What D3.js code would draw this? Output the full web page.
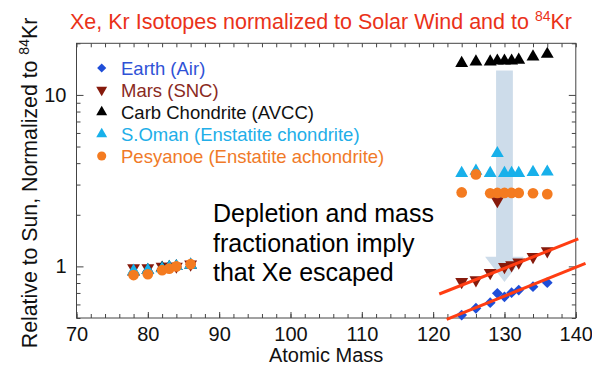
<!DOCTYPE html>
<html>
<head>
<meta charset="utf-8">
<script src="https://cdn.jsdelivr.net/npm/d3@7"></script>
<style>
  body { margin: 0; background: #fff; }
  svg { display: block; }
  text { font-family: "Liberation Sans", Arial, Helvetica, sans-serif; }
</style>
</head>
<body>
<svg id="chart" width="592" height="369"></svg>
<script>
// Isotope masses
const krMass = [78, 80, 82, 83, 84, 86];
const xeMass = [124, 126, 128, 129, 130, 131, 132, 134, 136];

// Abundances relative to solar wind, normalized to 84Kr
const earthKr = [0.91, 0.93, 0.97, 0.98, 1.0, 1.03];
const earthXe = [0.52, 0.57, 0.614, 0.697, 0.665, 0.702, 0.728, 0.761, 0.804];
const marsKr = [0.98, 0.98, 1.0, 1.0, 1.0, 1.03];
const marsXe = [0.814, 0.833, 0.918, 2.41, 0.995, 1.018, 1.056, 1.138, 1.23];
const avccKr = [0.93, 0.95, 0.98, 0.99, 1.0, 1.02];
const avccXe = [15.3, 15.6, 15.6, 15.8, 15.8, 15.8, 16.0, 16.7, 17.3];
const omanKr = [0.94, 0.95, 0.97, 0.99, 1.0, 1.02];
const omanXe = [3.49, 3.6, 3.49, 4.56, 3.49, 3.49, 3.49, 3.54, 3.56];
const pesyKr = [0.89, 0.9, 0.95, 0.97, 1.0, 1.03];
const pesyXe = [2.70, 3.44, 2.67, 2.68, 2.68, 2.68, 2.68, 2.67, 2.64];

const seriesNames = ["Earth (Air)", "Mars (SNC)", "Carb Chondrite (AVCC)",
  "S.Oman (Enstatite chondrite)", "Pesyanoe (Enstatite achondrite)"];

// Mass-fractionation trend lines: [mass, value] end points
const marsTrend = [[120.86, 0.690], [140.35, 1.445]];
const earthTrend = [[121.9, 0.491], [141.36, 1.042]];

// Depletion arrow at mass 130: top, head base and tip values
const arrowMass = 130;
const arrowValues = [13.9, 1.14, 0.81];

const xTicks = d3.range(70, 141, 10);
const xMinor = d3.range(70, 141, 2);
const yTicks = [1, 10];
const yMinor = [0.5, 0.6, 0.7, 0.8, 0.9, 2, 3, 4, 5, 6, 7, 8, 9, 20];

const title = "Xe, Kr Isotopes normalized to Solar Wind and to ";
const yLabel = "Relative to Sun, Normalized to ";
const xLabel = "Atomic Mass";
const annotation = ["Depletion and mass", "fractionation imply", "that Xe escaped"];

const svg = d3.select("#chart");
const pLeft = 76.5, pRight = 575.8, pTop = 43.3, pBottom = 318;

const x = d3.scaleLinear().domain([70, 140]).range([pLeft, pRight]);
const y = d3.scaleLog().domain([0.5, 20]).range([pBottom, pTop]);

const series = [
  { name: seriesNames[0], color: "#1f4ed8", text: "#2f52d6", kr: earthKr, xe: earthXe, sym: d3.symbolSquare, rot: 45, size: 58 },
  { name: seriesNames[1], color: "#861a0c", text: "#8a2a1e", kr: marsKr, xe: marsXe, sym: d3.symbolTriangle, rot: 180, size: 72 },
  { name: seriesNames[2], color: "#000000", text: "#111111", kr: avccKr, xe: avccXe, sym: d3.symbolTriangle, rot: 0, size: 72 },
  { name: seriesNames[3], color: "#18b0ea", text: "#22aee8", kr: omanKr, xe: omanXe, sym: d3.symbolTriangle, rot: 0, size: 72 },
  { name: seriesNames[4], color: "#f47b20", text: "#f07a28", kr: pesyKr, xe: pesyXe, sym: d3.symbolCircle, rot: 0, size: 90 }
];

// Title with superscript
const t = svg.append("text").attr("x", 321).attr("y", 29).attr("text-anchor", "middle")
  .attr("fill", "#ea3219").style("font-size", "21.5px");
t.append("tspan").text(title);
t.append("tspan").text("84").attr("dy", -8).style("font-size", "14px");
t.append("tspan").text("Kr").attr("dy", 8);

// Arrow
const ax = x(arrowMass);
const [aTop, aBase, aTip] = arrowValues.map(v => y(v));
svg.append("path")
  .attr("d", `M${ax - 8.4},${aTop} L${ax + 8.4},${aTop} L${ax + 8.4},${aBase} L${ax + 19.4},${aBase} L${ax},${aTip} L${ax - 19.4},${aBase} L${ax - 8.4},${aBase} Z`)
  .attr("fill", "#cddcea");

// Axes
function styleAxis(g) {
  g.select(".domain").remove();
  g.selectAll("line").attr("stroke", "#444");
  g.selectAll("text").attr("fill", "#111").style("font-size", "20px");
}
svg.append("g").attr("transform", `translate(0,${pBottom})`)
  .call(d3.axisBottom(x).tickValues(xMinor).tickSize(-4).tickFormat(""))
  .call(styleAxis);
svg.append("g").attr("transform", `translate(0,${pBottom})`)
  .call(d3.axisBottom(x).tickValues(xTicks).tickSize(-6).tickPadding(9).tickFormat(d3.format("d")))
  .call(styleAxis);
svg.append("g").attr("transform", `translate(0,${pTop})`)
  .call(d3.axisTop(x).tickValues(xMinor).tickSize(-4).tickFormat(""))
  .call(styleAxis);
svg.append("g").attr("transform", `translate(${pLeft},0)`)
  .call(d3.axisLeft(y).tickValues(yMinor).tickSize(-4).tickFormat(""))
  .call(styleAxis);
svg.append("g").attr("transform", `translate(${pLeft},0)`)
  .call(d3.axisLeft(y).tickValues(yTicks).tickSize(-7).tickPadding(10).tickFormat(d3.format("d")))
  .call(styleAxis);
svg.append("g").attr("transform", `translate(${pRight},0)`)
  .call(d3.axisRight(y).tickValues(yMinor).tickSize(-4).tickFormat(""))
  .call(styleAxis);
svg.append("g").attr("transform", `translate(${pRight},0)`)
  .call(d3.axisRight(y).tickValues(yTicks).tickSize(-7).tickFormat(""))
  .call(styleAxis);

svg.append("rect").attr("x", pLeft).attr("y", pTop)
  .attr("width", pRight - pLeft).attr("height", pBottom - pTop)
  .attr("fill", "none").attr("stroke", "#444").attr("stroke-width", 1);

// Axis titles
svg.append("text").attr("x", (pLeft + pRight) / 2).attr("y", 362).attr("text-anchor", "middle")
  .attr("fill", "#111").style("font-size", "20px").text(xLabel);
const yl = svg.append("text").attr("transform", `translate(37,183) rotate(-90)`)
  .attr("text-anchor", "middle").attr("fill", "#111").style("font-size", "21.3px");
yl.append("tspan").text(yLabel);
yl.append("tspan").text("84").attr("dy", -8).style("font-size", "14px");
yl.append("tspan").text("Kr").attr("dy", 8);

// Markers
const marks = svg.append("g");
series.forEach(s => {
  const pts = krMass.map((m, i) => [m, s.kr[i]]).concat(xeMass.map((m, i) => [m, s.xe[i]]));
  marks.selectAll(null).data(pts).join("path")
    .attr("d", d3.symbol().type(s.sym).size(s.size))
    .attr("transform", d => `translate(${x(d[0])},${y(d[1])}) rotate(${s.rot})`)
    .attr("fill", s.color);
});

// Trend lines
const line = d3.line().x(d => x(d[0])).y(d => y(d[1]));
[marsTrend, earthTrend].forEach(tr => {
  svg.append("path").attr("d", line(tr)).attr("fill", "none")
    .attr("stroke", "#ff3d12").attr("stroke-width", 3);
});

// Annotation
const ann = svg.append("text").attr("fill", "#000").style("font-size", "25px");
annotation.forEach((l, i) => {
  ann.append("tspan").attr("x", 213).attr("y", 222 + i * 29.5).text(l);
});

// Legend
const lg = svg.append("g");
series.forEach((s, i) => {
  const yy = 68 + i * 22;
  lg.append("path").attr("d", d3.symbol().type(s.sym).size(s.size * 0.72))
    .attr("transform", `translate(101.7,${yy}) rotate(${s.rot})`)
    .attr("fill", s.color);
  lg.append("text").attr("x", 121).attr("y", yy + 6.5).attr("fill", s.text)
    .style("font-size", "18.5px").text(s.name);
});
</script>
</body>
</html>
